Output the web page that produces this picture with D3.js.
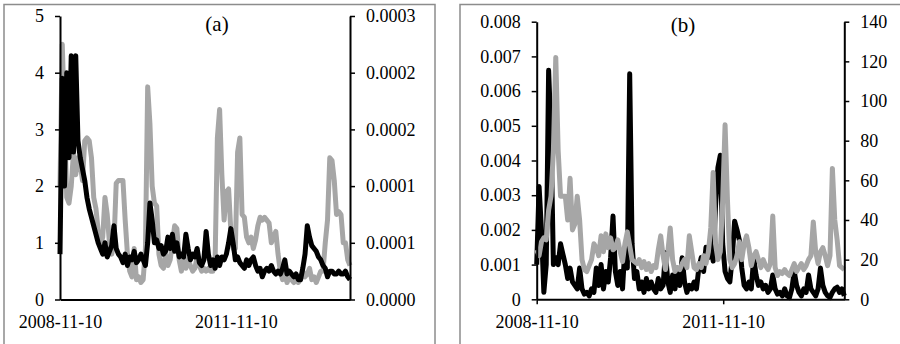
<!DOCTYPE html>
<html>
<head>
<meta charset="utf-8">
<script src="https://cdn.jsdelivr.net/npm/d3@7"></script>
<style>
  html, body { margin: 0; padding: 0; background: #fff; }
  svg { display: block; }
  svg text { font-family: "Liberation Serif", "DejaVu Serif", "Times New Roman", serif !important; }
</style>
</head>
<body>
<div id="chart"></div>
<script>
// series are sampled every two weeks from the start date
const startDate = "2008-11-10";
const stepDays = 14;
const xTickLabels = ["2008-11-10", "2011-11-10"];

// panel (a): black on left axis, gray on right axis
const blackA = [
  0.8, 3.9, 2.0, 4.0, 2.5, 4.3, 2.6, 4.3, 2.8, 2.5,
  2.3, 2.1, 1.8, 1.6, 1.45, 1.3, 1.15, 1.0, 0.9, 0.8,
  1.0, 0.75, 0.85, 0.95, 1.3, 0.9, 0.8, 0.75, 0.65, 0.8,
  0.6, 0.75, 0.7, 0.85, 0.65, 0.7, 0.8, 0.7, 0.6, 1.0,
  1.7, 1.4, 1.0, 1.05, 0.9, 0.95, 0.8, 0.85, 1.1, 0.9,
  1.15, 0.85, 1.0, 0.75, 0.8, 0.75, 1.15, 0.9, 0.7, 0.8,
  0.75, 0.9, 0.65, 0.6, 0.7, 1.2, 0.8, 0.6, 0.7, 0.55,
  0.75, 0.6, 0.75, 0.7, 0.8, 1.0, 1.25, 1.0, 0.7, 0.75,
  0.65, 0.6, 0.55, 0.7, 0.6, 0.7, 0.75, 0.6, 0.5, 0.55,
  0.4, 0.5, 0.55, 0.5, 0.6, 0.5, 0.45, 0.5, 0.45, 0.55,
  0.7, 0.45, 0.5, 0.45, 0.4, 0.45, 0.35, 0.35, 0.55, 0.8,
  1.3, 1.1, 0.95, 0.9, 0.85, 0.75, 0.7, 0.6, 0.55, 0.4,
  0.5, 0.5, 0.45, 0.45, 0.5, 0.45, 0.45, 0.5, 0.4, 0.35
];
const grayA = [
  0.000120, 0.000270, 0.000192, 0.000108, 0.000102, 0.000120, 0.000156, 0.000132, 0.000150, 0.000144,
  0.000126, 0.000168, 0.000171, 0.000168, 0.000150, 0.000108, 0.000096, 0.000072, 0.000057, 0.000066,
  0.000108, 0.000090, 0.000060, 0.000048, 0.000060, 0.000123, 0.000126, 0.000126, 0.000126, 0.000084,
  0.000048, 0.000030, 0.000024, 0.000054, 0.000021, 0.000024, 0.000018, 0.000021, 0.000054, 0.000225,
  0.000186, 0.000120, 0.000102, 0.000099, 0.000048, 0.000036, 0.000033, 0.000048, 0.000036, 0.000042,
  0.000060, 0.000078, 0.000075, 0.000042, 0.000030, 0.000048, 0.000033, 0.000042, 0.000036, 0.000030,
  0.000033, 0.000045, 0.000036, 0.000030, 0.000033, 0.000030, 0.000033, 0.000030, 0.000030, 0.000042,
  0.000171, 0.000201, 0.000132, 0.000084, 0.000114, 0.000117, 0.000072, 0.000054, 0.000054, 0.000156,
  0.000171, 0.000090, 0.000087, 0.000066, 0.000060, 0.000066, 0.000054, 0.000063, 0.000078, 0.000087,
  0.000084, 0.000087, 0.000084, 0.000081, 0.000060, 0.000066, 0.000072, 0.000048, 0.000030, 0.000021,
  0.000027, 0.000018, 0.000024, 0.000021, 0.000018, 0.000024, 0.000018, 0.000021, 0.000030, 0.000024,
  0.000027, 0.000033, 0.000021, 0.000024, 0.000018, 0.000024, 0.000030, 0.000030, 0.000060, 0.000084,
  0.000150, 0.000147, 0.000126, 0.000090, 0.000093, 0.000090, 0.000060, 0.000060, 0.000042, 0.000036
];

// panel (b): black on left axis, gray on right axis
const blackB = [
  0.0010, 0.00325, 0.0020, 0.0002, 0.0010, 0.0066, 0.0048, 0.0010, 0.0012, 0.0010,
  0.0016, 0.0013, 0.0010, 0.0006, 0.0009, 0.0005, 0.0004, 0.0003, 0.0009, 0.0003,
  0.00015, 0.0002, 0.0001, 0.0003, 0.0002, 0.0009, 0.0004, 0.0010, 0.0003, 0.0008,
  0.0005, 0.0012, 0.0024, 0.0008, 0.0004, 0.0008, 0.0003, 0.0015, 0.0009, 0.0065,
  0.0016, 0.0006, 0.0008, 0.0003, 0.0005, 0.0002, 0.0006, 0.0003, 0.0005, 0.0003,
  0.0002, 0.0006, 0.0003, 0.0004, 0.00135, 0.0005, 0.0002, 0.0007, 0.0003, 0.0009,
  0.0004, 0.0012, 0.0005, 0.0002, 0.0004, 0.0003, 0.0005, 0.0003, 0.0009, 0.0012,
  0.0008, 0.0015, 0.0012, 0.0018, 0.0011, 0.0027, 0.0038, 0.00415, 0.0016, 0.0008,
  0.0006, 0.0005, 0.0012, 0.00225, 0.0020, 0.0017, 0.0009, 0.0004, 0.0003, 0.0005,
  0.0003, 0.0012, 0.0007, 0.0004, 0.0005, 0.0003, 0.0004, 0.0002, 0.0003, 0.0007,
  0.0003, 0.00015, 0.0002, 0.0001, 0.0003, 0.0001, 0.00005, 0.0003, 0.0008, 0.0004,
  0.0002, 0.0001, 0.0003, 0.0002, 0.0007, 0.0003, 0.0002, 0.0001, 0.0003, 0.0009,
  0.0004, 0.0002, 0.0001, 0.00005, 0.0002, 0.0003, 0.00035, 0.0002, 0.0003, 0.0001
];
const grayB = [
  25, 22, 29, 31, 30, 45, 52, 75, 122, 75,
  52, 52, 52, 40, 61, 35, 38, 52, 40, 20,
  15, 14, 17, 20, 28, 26, 22, 32, 24, 33,
  26, 31, 25, 26, 30, 24, 19, 28, 34, 27,
  20, 19, 18, 20, 16, 19, 15, 18, 14, 17,
  16, 25, 32, 22, 15, 24, 36, 20, 14, 16,
  15, 18, 20, 16, 32, 24, 16, 15, 18, 16,
  22, 18, 24, 36, 64, 28, 20, 24, 50, 88,
  50, 20, 16, 18, 22, 29, 20, 28, 32, 26,
  17, 22, 24, 20, 16, 20, 17, 15, 18, 42,
  16, 12, 14, 13, 15, 13, 12, 15, 18, 14,
  16, 18, 15, 17, 20, 22, 39, 24, 18, 24,
  26, 22, 17, 22, 66, 40, 30, 17, 16, 15
];

const leftTicksA = [0, 1, 2, 3, 4, 5];
const rightTicksA = [0, 0.00006, 0.00012, 0.00018, 0.00024, 0.0003];
const leftTicksB = [0, 0.001, 0.002, 0.003, 0.004, 0.005, 0.006, 0.007, 0.008];
const rightTicksB = [0, 20, 40, 60, 80, 100, 120, 140];

const serif = "Liberation Serif, DejaVu Serif, serif";
const parse = d3.timeParse("%Y-%m-%d");
const t0 = parse(startDate);
const dateAt = i => d3.timeDay.offset(t0, i * stepDays);

const svg = d3.select("#chart").append("svg")
  .attr("width", 900)
  .attr("height", 344)
  .attr("font-family", serif);

function drawPanel(p) {
  svg.append("rect")
    .attr("x", p.frame[0]).attr("y", p.frame[1])
    .attr("width", p.frame[2]).attr("height", p.frame[3])
    .attr("fill", "none")
    .attr("stroke", "#8c8c8c")
    .attr("stroke-width", 1.5);

  const n = p.black.length;
  const x = d3.scaleTime().domain([t0, dateAt(n - 1)]).range([p.left, p.right]);
  const yL = d3.scaleLinear().domain(p.leftDomain).range([p.bottom, p.top]);
  const yR = d3.scaleLinear().domain(p.rightDomain).range([p.bottom, p.top]);

  const lineL = d3.line().x((d, i) => x(dateAt(i))).y(d => yL(d));
  const lineR = d3.line().x((d, i) => x(dateAt(i))).y(d => yR(d));

  const series = [
    { data: p.black, line: lineL, color: "#000000" },
    { data: p.gray, line: lineR, color: "#a6a6a6" }
  ];
  if (p.blackOnTop) series.reverse();

  series.forEach(s => {
    svg.append("path")
      .datum(s.data)
      .attr("d", s.line)
      .attr("fill", "none")
      .attr("stroke", s.color)
      .attr("stroke-width", 5)
      .attr("stroke-linejoin", "round");
  });

  const g = svg.append("g");

  g.append("g")
    .attr("transform", "translate(" + p.left + ",0)")
    .call(d3.axisLeft(yL).tickValues(p.leftTicks).tickFormat(p.leftFormat)
      .tickSize(5).tickSizeOuter(0).tickPadding(11));

  g.append("g")
    .attr("transform", "translate(" + p.right + ",0)")
    .call(d3.axisRight(yR).tickValues(p.rightTicks).tickFormat(p.rightFormat)
      .tickSize(5).tickSizeOuter(0).tickPadding(11));

  g.append("g")
    .attr("transform", "translate(0," + p.bottom + ")")
    .call(d3.axisBottom(x).tickValues(xTickLabels.map(parse))
      .tickFormat(d3.timeFormat("%Y-%m-%d"))
      .tickSize(p.xTickSize).tickSizeOuter(0).tickPadding(p.xTickPadding));

  g.selectAll("g").attr("font-family", serif).attr("font-size", 18);
  g.selectAll(".domain").attr("stroke", "#000").attr("stroke-width", 2);
  g.selectAll(".tick line").attr("stroke", "#000").attr("stroke-width", 1.5);
  g.selectAll("text").attr("fill", "#000");

  svg.append("text")
    .attr("x", p.titleX).attr("y", p.titleY)
    .attr("text-anchor", "middle")
    .attr("font-size", 21)
    .text(p.title);
}

drawPanel({
  frame: [4, 4.5, 431, 345],
  left: 60, right: 350, top: 16, bottom: 299.5,
  black: blackA, gray: grayA, blackOnTop: true,
  leftDomain: [0, 5], rightDomain: [0, 0.0003],
  leftTicks: leftTicksA, rightTicks: rightTicksA,
  leftFormat: d3.format("d"), rightFormat: d3.format(".4f"),
  xTickSize: 0, xTickPadding: 16,
  title: "(a)", titleX: 217, titleY: 31
});

drawPanel({
  frame: [460, 4.5, 450, 345],
  left: 536.7, right: 844.3, top: 21.7, bottom: 299.3,
  black: blackB, gray: grayB, blackOnTop: false,
  leftDomain: [0, 0.008], rightDomain: [0, 140],
  leftTicks: leftTicksB, rightTicks: rightTicksB,
  leftFormat: d => d === 0 ? "0" : d3.format(".3f")(d), rightFormat: d3.format("d"),
  xTickSize: 5, xTickPadding: 11,
  title: "(b)", titleX: 683, titleY: 32
});
</script>
</body>
</html>
